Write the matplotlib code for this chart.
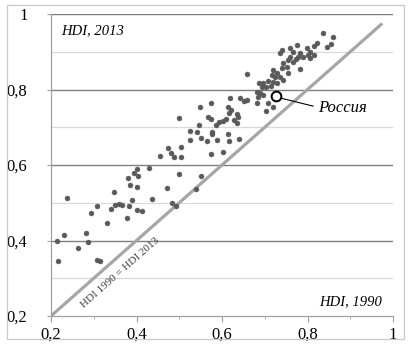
import math
import matplotlib
matplotlib.use("Agg")
import matplotlib.pyplot as plt
from matplotlib.patches import Rectangle
from matplotlib.ticker import MultipleLocator, FixedLocator

# Human Development Index by country: 1990 (x) vs 2013 (y)
hdi_1990 = [
    0.216, 0.213, 0.231, 0.237, 0.262, 0.282, 0.287, 0.293, 0.307, 0.307,
    0.315, 0.330, 0.340, 0.347, 0.350, 0.360, 0.365, 0.377, 0.383, 0.385,
    0.389, 0.400, 0.400, 0.412, 0.437, 0.381, 0.393, 0.404, 0.400, 0.430,
    0.471, 0.483, 0.492, 0.499, 0.540, 0.550, 0.455, 0.474, 0.480, 0.488,
    0.503, 0.503, 0.574, 0.602, 0.524, 0.525, 0.542, 0.550, 0.564, 0.547,
    0.499, 0.549, 0.574, 0.567, 0.574, 0.586, 0.577, 0.576, 0.588, 0.615,
    0.617, 0.640, 0.594, 0.603, 0.609, 0.628, 0.636, 0.615, 0.620, 0.617,
    0.634, 0.638, 0.619, 0.642, 0.651, 0.658, 0.681, 0.708, 0.720, 0.703,
    0.681, 0.689, 0.697, 0.685, 0.658, 0.687, 0.697, 0.708, 0.720, 0.728,
    0.714, 0.703, 0.693, 0.743, 0.716, 0.724, 0.736, 0.720, 0.729, 0.740,
    0.751, 0.743, 0.755, 0.767, 0.759, 0.773, 0.778, 0.790, 0.782, 0.740,
    0.736, 0.759, 0.765, 0.776, 0.798, 0.806, 0.802, 0.815, 0.806, 0.823,
    0.815, 0.837, 0.860, 0.854, 0.846, 0.782, 0.755,
]
hdi_2013 = [
    0.346, 0.399, 0.415, 0.513, 0.380, 0.419, 0.397, 0.474, 0.491, 0.348,
    0.346, 0.447, 0.483, 0.529, 0.494, 0.498, 0.493, 0.459, 0.491, 0.546,
    0.507, 0.542, 0.481, 0.478, 0.510, 0.565, 0.578, 0.570, 0.589, 0.593,
    0.539, 0.500, 0.491, 0.577, 0.536, 0.571, 0.623, 0.644, 0.633, 0.620,
    0.647, 0.622, 0.630, 0.635, 0.666, 0.691, 0.688, 0.671, 0.664, 0.706,
    0.725, 0.754, 0.763, 0.728, 0.722, 0.706, 0.688, 0.681, 0.666, 0.681,
    0.664, 0.669, 0.713, 0.717, 0.721, 0.719, 0.712, 0.753, 0.746, 0.737,
    0.734, 0.728, 0.777, 0.777, 0.770, 0.772, 0.763, 0.764, 0.753, 0.742,
    0.794, 0.790, 0.785, 0.781, 0.842, 0.816, 0.818, 0.823, 0.821, 0.816,
    0.809, 0.807, 0.807, 0.825, 0.838, 0.834, 0.834, 0.852, 0.845, 0.856,
    0.860, 0.869, 0.878, 0.874, 0.887, 0.880, 0.885, 0.887, 0.896, 0.905,
    0.896, 0.909, 0.900, 0.918, 0.909, 0.900, 0.891, 0.891, 0.883, 0.922,
    0.915, 0.950, 0.940, 0.921, 0.913, 0.854, 0.843,
]

russia_label = "Россия"
russia_1990 = 0.727
russia_2013 = 0.782

x_ticks = [0.2, 0.4, 0.6, 0.8, 1.0]
y_ticks = [0.2, 0.4, 0.6, 0.8, 1.0]
tick_labels = ["0,2", "0,4", "0,6", "0,8", "1"]

serif = "Liberation Serif"

fig = plt.figure(figsize=(4.11, 3.44), dpi=100)
ax = fig.add_axes([51 / 411, 1 - 316 / 344, 342 / 411, 302 / 344])

# outer frame around the whole chart
fig.patches.append(Rectangle((7 / 411, 1 - 339 / 344), 397 / 411, 334 / 344,
                             transform=fig.transFigure, fill=False,
                             edgecolor="#c8c8c8", linewidth=0.9))

ax.set_xlim(0.2, 1.0)
ax.set_ylim(0.2, 1.0)

# horizontal grid: major dark, minor light
for v in [0.3, 0.5, 0.7, 0.9]:
    ax.axhline(v, color="#d9d9d9", linewidth=0.9, zorder=1)
for v in [0.4, 0.6, 0.8, 1.0]:
    ax.axhline(v, color="#7f7f7f", linewidth=1.0, zorder=1)

for side in ["top", "right"]:
    ax.spines[side].set_visible(False)
for side in ["left", "bottom"]:
    ax.spines[side].set_color("#a0a0a0")
    ax.spines[side].set_linewidth(0.9)

ax.xaxis.set_major_locator(FixedLocator(x_ticks))
ax.yaxis.set_major_locator(FixedLocator(y_ticks))
ax.xaxis.set_minor_locator(MultipleLocator(0.1))
ax.set_xticklabels(tick_labels, fontfamily=serif, fontsize=12)
ax.set_yticklabels(tick_labels, fontfamily=serif, fontsize=12)
ax.tick_params(axis="x", which="major", length=4, color="#a0a0a0", pad=4)
ax.tick_params(axis="x", which="minor", length=2.5, color="#a0a0a0")
ax.tick_params(axis="y", which="major", length=3, color="#a0a0a0", pad=14)

# equality diagonal
ax.plot([0.2, 0.975], [0.2, 0.975], color="#a6a6a6", linewidth=2.3,
        solid_capstyle="butt", zorder=2)

# countries
ax.plot(hdi_1990, hdi_2013, linestyle="none", marker="o", markersize=3.6,
        markerfacecolor="#5a5a5a", markeredgecolor="#5a5a5a",
        markeredgewidth=0.3, zorder=3)

# Russia highlighted
ax.plot([russia_1990], [russia_2013], linestyle="none", marker="o",
        markersize=7, markerfacecolor="white", markeredgecolor="black",
        markeredgewidth=1.4, zorder=5)
ax.plot([russia_1990 + 0.011, 0.813], [russia_2013 - 0.005, 0.756],
        color="black", linewidth=0.8, zorder=4)
ax.text(0.825, 0.751, russia_label, fontfamily=serif, fontstyle="italic",
        fontsize=12, va="center", ha="left", zorder=6)

ax.text(0.224, 0.955, "HDI, 2013", fontfamily=serif, fontstyle="italic",
        fontsize=10.5, va="center", ha="left")
ax.text(0.974, 0.237, "HDI, 1990", fontfamily=serif, fontstyle="italic",
        fontsize=10.5, va="center", ha="right")

# label along the diagonal
p1 = ax.transData.transform((0.2, 0.2))
p2 = ax.transData.transform((1.0, 1.0))
angle = math.degrees(math.atan2(p2[1] - p1[1], p2[0] - p1[0]))
ax.text(0.363, 0.316, "HDI 1990 = HDI 2013", fontfamily=serif, fontsize=8,
        rotation=angle, rotation_mode="anchor", ha="center", va="center",
        color="#404040")

fig.savefig("out.png", dpi=100)
